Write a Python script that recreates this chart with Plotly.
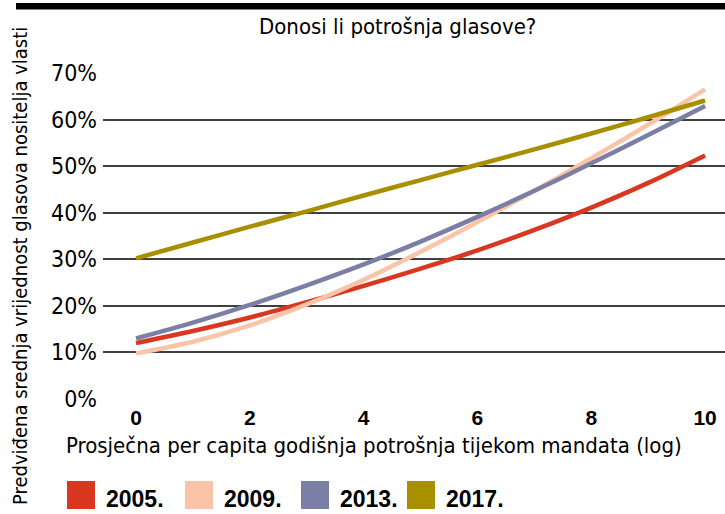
import plotly.graph_objects as go

# ---- data ----
x_vals = [0, 1, 2, 3, 4, 5, 6, 7, 8, 9, 10]
years = ["2005.", "2009.", "2013.", "2017."]
s2005 = [12.0, 14.6, 17.5, 20.8, 24.3, 28.0, 31.9, 36.3, 41.1, 46.4, 52.3]
s2009 = [9.8, 12.3, 15.8, 20.3, 25.6, 31.6, 38.0, 44.7, 51.7, 58.9, 66.5]
s2013 = [13.0, 16.4, 20.2, 24.4, 28.9, 33.8, 39.1, 44.7, 50.6, 56.7, 62.9]
s2017 = [30.2, 33.6, 37.0, 40.3, 43.7, 47.0, 50.3, 53.6, 57.0, 60.5, 64.1]
series = [s2005, s2009, s2013, s2017]
colors = ["#d93720", "#f9c4a8", "#7c7fa5", "#a88f00"]
x_ticks = [0, 2, 4, 6, 8, 10]
y_ticks = [0, 10, 20, 30, 40, 50, 60, 70]
y_tick_text = [f"{v}%" for v in y_ticks]

title = "Donosi li potrošnja glasove?"
x_title = "Prosječna per capita godišnja potrošnja tijekom mandata (log)"
y_title = "Predviđena srednja vrijednost glasova nositelja vlasti"

COND = "DejaVu Sans Condensed, Liberation Sans Narrow, Arial Narrow, sans-serif"
BOLD = "Liberation Sans, Arial, sans-serif"

fig = go.Figure()
for name, vals, col in zip(years, series, colors):
    fig.add_trace(go.Scatter(
        x=x_vals, y=[v / 100 for v in vals], mode="lines", name=name,
        line=dict(color=col, width=4.5, shape="spline", smoothing=0.8),
        showlegend=False, hoverinfo="skip",
    ))

L, R, T, B = 103, 0, 73, 115
W, H = 725, 514
pw, ph = W - L - R, H - T - B

def px_x(p):
    return (p - L) / pw

def px_y(p):
    return (H - B - p) / ph

fig.update_layout(
    width=W, height=H,
    margin=dict(l=L, r=R, t=T, b=B, pad=0),
    paper_bgcolor="white", plot_bgcolor="white",
    xaxis=dict(range=[-0.58, 10.35], tickvals=x_ticks, ticktext=[str(t) for t in x_ticks],
               showgrid=False, zeroline=False, showline=False, ticks="",
               tickfont=dict(family=BOLD, size=21, color="black", weight="bold"),
               ticklabelstandoff=4),
    yaxis=dict(range=[0, 0.7], tickvals=[v / 100 for v in y_ticks], ticktext=y_tick_text,
               showgrid=True, gridcolor="#404040", gridwidth=1.5, zeroline=False,
               showline=False, ticks="",
               tickfont=dict(family=COND, size=23, color="black"),
               ticklabelstandoff=5),
    showlegend=False,
)

# top black bar
fig.add_shape(type="rect", xref="paper", yref="paper",
              x0=px_x(16), x1=px_x(725), y0=px_y(9.5), y1=px_y(3),
              fillcolor="black", line=dict(width=0), layer="above")

# title
fig.add_annotation(text=title, xref="paper", yref="paper", x=px_x(397), y=px_y(27),
                   xanchor="center", yanchor="middle", showarrow=False,
                   font=dict(family=COND, size=22, color="black"))
# x axis title
fig.add_annotation(text=x_title, xref="paper", yref="paper", x=px_x(374), y=px_y(445),
                   xanchor="center", yanchor="middle", showarrow=False,
                   font=dict(family=COND, size=22, color="black"))
# y axis title
fig.add_annotation(text=y_title, xref="paper", yref="paper", x=px_x(20), y=px_y(266),
                   xanchor="center", yanchor="middle", showarrow=False, textangle=-90,
                   font=dict(family=COND, size=20, color="black"))

# legend (custom squares + bold labels)
sq_left = [67, 185, 301, 407]
for name, col, xl in zip(years, colors, sq_left):
    fig.add_shape(type="rect", xref="paper", yref="paper",
                  x0=px_x(xl), x1=px_x(xl + 28), y0=px_y(509), y1=px_y(481),
                  fillcolor=col, line=dict(width=0))
    fig.add_annotation(text=name, xref="paper", yref="paper", x=px_x(xl + 37), y=px_y(499),
                       xanchor="left", yanchor="middle", showarrow=False,
                       font=dict(family=BOLD, size=23, color="black", weight="bold"))

fig.write_html("out.html", config={"displayModeBar": False})

# remove the browser's default body margin so the figure fills the window
with open("out.html", encoding="utf-8") as f:
    html = f.read()
html = html.replace("<head>", "<head><style>html,body{margin:0;padding:0;overflow:hidden;}</style>", 1)
with open("out.html", "w", encoding="utf-8") as f:
    f.write(html)
